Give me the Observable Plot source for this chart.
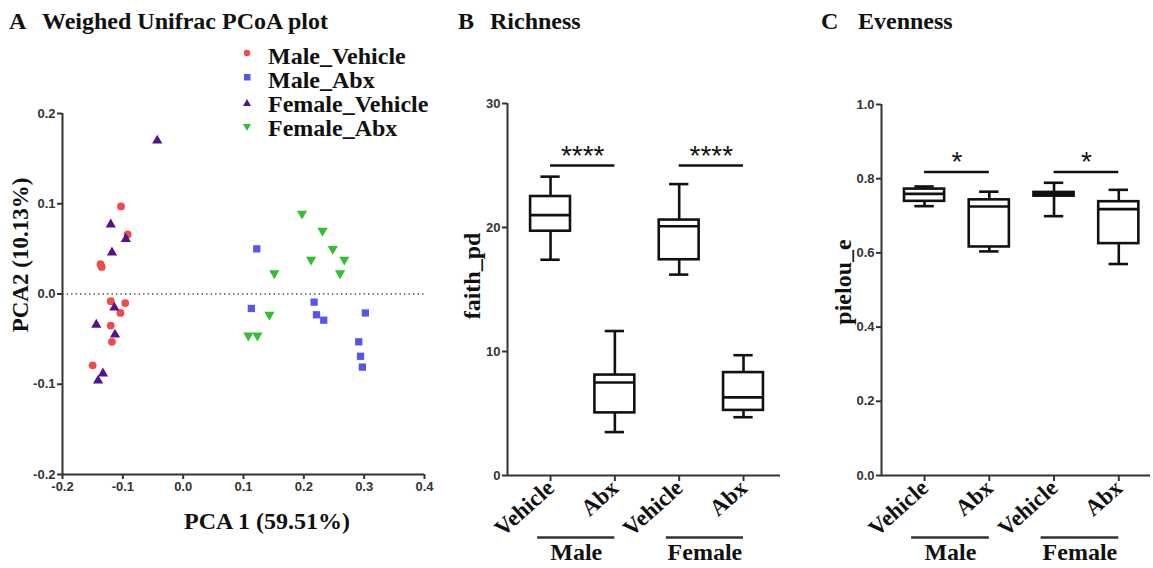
<!DOCTYPE html>
<html>
<head>
<meta charset="utf-8">
<script src="https://cdn.jsdelivr.net/npm/d3@7"></script>
<script src="https://cdn.jsdelivr.net/npm/@observablehq/plot@0.6"></script>
<style>
  body { margin: 0; background: #fff; }
  #wrap { position: relative; width: 1153px; height: 568px; overflow: hidden; background: #fff; }
  .abs { position: absolute; white-space: nowrap; }
  .serif { font-family: "Liberation Serif", "Times New Roman", serif; font-weight: bold; color: #111; font-size: 24px; line-height: 24px; }
  .rot { transform: translate(-50%, -50%) rotate(-90deg); }
  .plot { position: absolute; top: 0; }
</style>
</head>
<body>
<div id="wrap"></div>
<script>
// ---------- Panel A data (Weighted Unifrac PCoA) ----------
const maleVehicleX   = [-0.103, -0.092, -0.137, -0.135, -0.120, -0.096, -0.104, -0.120, -0.118, -0.150];
const maleVehicleY   = [ 0.097,  0.066,  0.033,  0.030, -0.008, -0.010, -0.021, -0.035, -0.053, -0.079];
const maleAbxX       = [ 0.122,  0.113,  0.217,  0.221,  0.233,  0.302,  0.291,  0.294,  0.297];
const maleAbxY       = [ 0.050, -0.016, -0.009, -0.023, -0.029, -0.021, -0.053, -0.069, -0.081];
const femaleVehicleX = [-0.043, -0.120, -0.095, -0.118, -0.114, -0.144, -0.113, -0.133, -0.141];
const femaleVehicleY = [ 0.170,  0.077,  0.061,  0.046, -0.015, -0.034, -0.045, -0.088, -0.096];
const femaleAbxX     = [ 0.197,  0.231,  0.248,  0.212,  0.267,  0.151,  0.260,  0.143,  0.108,  0.123];
const femaleAbxY     = [ 0.089,  0.070,  0.050,  0.038,  0.038,  0.023,  0.023, -0.023, -0.046, -0.046];
const seriesNames    = ["Male_Vehicle", "Male_Abx", "Female_Vehicle", "Female_Abx"];
const seriesColors   = ["#f04a4a", "#5656ee", "#55128c", "#30c030"];
const pcaXTicks      = [-0.2, -0.1, 0.0, 0.1, 0.2, 0.3, 0.4];
const pcaYTicks      = [-0.2, -0.1, 0.0, 0.1, 0.2];

// ---------- Panels B / C data (box summaries) ----------
const categories = ["Vehicle", "Abx", "Vehicle", "Abx"];
const positions  = [1, 2, 3, 4];
const groupNames = ["Male", "Female"];
const groupStart = [1, 3];
const groupEnd   = [2, 4];

const richMin    = [17.4, 3.5, 16.2, 4.7];
const richQ1     = [19.7, 5.05, 17.4, 5.25];
const richMedian = [21.0, 7.5, 20.1, 6.3];
const richQ3     = [22.5, 8.1, 20.6, 8.3];
const richMax    = [24.1, 11.65, 23.5, 9.7];
const richTicks  = [0, 10, 20, 30];
const richSigY   = [25.0, 25.0];
const richSigLbl = ["****", "****"];

const evenMin    = [0.726, 0.604, 0.699, 0.570];
const evenQ1     = [0.739, 0.616, 0.753, 0.625];
const evenMedian = [0.759, 0.725, 0.758, 0.718];
const evenQ3     = [0.772, 0.743, 0.763, 0.738];
const evenMax    = [0.779, 0.765, 0.789, 0.770];
const evenTicks  = [0, 0.2, 0.4, 0.6, 0.8, 1.0];
const evenSigY   = [0.818, 0.818];
const evenSigLbl = ["*", "*"];

const SERIF = "Liberation Serif";
const SANS = "Liberation Sans";
const wrap = document.getElementById("wrap");

function addText(txt, left, top, cls, extra) {
  const d = document.createElement("div");
  d.className = "abs " + cls;
  d.textContent = txt;
  d.style.left = left + "px";
  d.style.top = top + "px";
  if (extra) Object.assign(d.style, extra);
  wrap.appendChild(d);
  return d;
}
function place(svg, left) {
  svg.classList.add("plot");
  svg.style.left = left + "px";
  wrap.appendChild(svg);
}

// ---------- Panel A ----------
const toRows = (xs, ys) => xs.map((x, i) => ({x, y: ys[i]}));
const tickStyle = {fontSize: 13, fontWeight: "bold", fontFamily: SANS, color: "#333", strokeWidth: 2, label: null};

const plotA = Plot.plot({
  width: 440, height: 568,
  marginLeft: 62, marginRight: 16, marginTop: 113, marginBottom: 94,
  x: {domain: [-0.2, 0.4]},
  y: {domain: [-0.2, 0.2]},
  style: {background: "transparent", fontFamily: SANS, overflow: "visible"},
  marks: [
    Plot.ruleY([0], {stroke: "#555", strokeWidth: 1.5, strokeDasharray: "1.5,3"}),
    Plot.ruleX([-0.2], {stroke: "#333", strokeWidth: 2}),
    Plot.ruleY([-0.2], {stroke: "#333", strokeWidth: 2}),
    Plot.axisX({ticks: pcaXTicks, tickFormat: d => d.toFixed(1), tickSize: 5, tickPadding: 2, ...tickStyle}),
    Plot.axisY({ticks: pcaYTicks, tickFormat: d => d.toFixed(1), tickSize: 5, tickPadding: 2, ...tickStyle}),
    Plot.dot(toRows(maleAbxX, maleAbxY), {x: "x", y: "y", symbol: "square", r: 4.1, fill: seriesColors[1]}),
    Plot.dot(toRows(femaleAbxX, femaleAbxY), {x: "x", y: "y", symbol: "triangle", rotate: 180, r: 3.8, fill: seriesColors[3]}),
    Plot.dot(toRows(maleVehicleX, maleVehicleY), {x: "x", y: "y", symbol: "circle", r: 3.9, fill: seriesColors[0]}),
    Plot.dot(toRows(femaleVehicleX, femaleVehicleY), {x: "x", y: "y", symbol: "triangle", r: 3.8, fill: seriesColors[2]})
  ]
});
place(plotA, 0);

// ---------- Box panels ----------
function boxPanel({left, width, marginLeft, marginRight, marginTop, yDomain, xDomain, yTicks, yFmt, stats, sigY, sigLbl}) {
  const rows = positions.map((p, i) => ({pos: p, min: stats[0][i], q1: stats[1][i], med: stats[2][i], q3: stats[3][i], max: stats[4][i]}));
  const groups = groupNames.map((g, i) => ({name: g, start: groupStart[i], end: groupEnd[i]}));
  const sig = groups.map((g, i) => ({from: g.start, to: g.end, y: sigY[i], label: sigLbl[i]}));
  const line = {stroke: "#111", strokeWidth: 2.6};
  const hw = 0.31, cw = 0.15;
  const y0 = yDomain[0];
  const svg = Plot.plot({
    width, height: 568, marginLeft, marginRight, marginTop, marginBottom: 93,
    x: {domain: xDomain},
    y: {domain: yDomain},
    style: {background: "transparent", fontFamily: SANS, overflow: "visible"},
    marks: [
      Plot.ruleX(rows, {x: "pos", y1: "q3", y2: "max", ...line}),
      Plot.ruleX(rows, {x: "pos", y1: "min", y2: "q1", ...line}),
      Plot.ruleY(rows, {y: "max", x1: d => d.pos - cw, x2: d => d.pos + cw, ...line}),
      Plot.ruleY(rows, {y: "min", x1: d => d.pos - cw, x2: d => d.pos + cw, ...line}),
      Plot.rect(rows, {x1: d => d.pos - hw, x2: d => d.pos + hw, y1: "q1", y2: "q3", fill: "white", ...line}),
      Plot.ruleY(rows, {y: "med", x1: d => d.pos - hw, x2: d => d.pos + hw, ...line}),
      Plot.ruleY(sig, {y: "y", x1: "from", x2: "to", ...line}),
      Plot.text(sig, {x: d => (d.from + d.to) / 2, y: "y", text: "label", lineAnchor: "bottom", dy: -1, fontSize: 28, fontFamily: SANS, fill: "#111"}),
      Plot.ruleX([xDomain[0]], {stroke: "#333", strokeWidth: 2}),
      Plot.ruleY([y0], {stroke: "#333", strokeWidth: 2}),
      Plot.axisY({ticks: yTicks, tickFormat: yFmt, tickSize: 5, tickPadding: 2, ...tickStyle}),
      Plot.axisX({ticks: positions, tickFormat: d => categories[d - 1], tickRotate: -42, tickSize: 6, tickPadding: 3,
        fontSize: 23, fontWeight: "bold", fontFamily: SERIF, color: "#111", stroke: "#333", strokeWidth: 2, label: null}),
      Plot.ruleY(groups, {y: () => y0, x1: d => d.start - 0.2, x2: "end", dy: 62, stroke: "#333", strokeWidth: 2.6}),
      Plot.text(groups, {x: d => (d.start - 0.2 + d.end) / 2, y: () => y0, text: "name", dy: 84, lineAnchor: "bottom",
        fontSize: 24, fontWeight: "bold", fontFamily: SERIF, fill: "#111"})
    ]
  });
  place(svg, left);
}

boxPanel({left: 440, width: 370, marginLeft: 67, marginRight: 30, marginTop: 103,
  yDomain: [0, 30], xDomain: [0.331, 4.575], yTicks: richTicks, yFmt: d => String(d),
  stats: [richMin, richQ1, richMedian, richQ3, richMax], sigY: richSigY, sigLbl: richSigLbl});
boxPanel({left: 810, width: 343, marginLeft: 71, marginRight: 3, marginTop: 104,
  yDomain: [0, 1], xDomain: [0.335, 4.49], yTicks: evenTicks, yFmt: d => d.toFixed(1),
  stats: [evenMin, evenQ1, evenMedian, evenQ3, evenMax], sigY: evenSigY, sigLbl: evenSigLbl});

// ---------- Titles & labels ----------
addText("A", 9, 9, "serif");
addText("Weighed Unifrac PCoA plot", 42, 9, "serif");
addText("B", 458, 9, "serif");
addText("Richness", 490, 9, "serif");
addText("C", 821, 9, "serif");
addText("Evenness", 858, 9, "serif");

addText("PCA2 (10.13%)", 21, 255, "serif rot", {fontSize: "23px"});
addText("faith_pd", 472, 276, "serif rot");
addText("pielou_e", 843, 282, "serif rot");
addText("PCA 1 (59.51%)", 267, 509, "serif", {transform: "translateX(-50%)"});

// ---------- Legend ----------
const legendShapes = ["circle", "square", "triangle", "triangle-down"];
seriesNames.forEach((name, i) => {
  const top = 44 + i * 24;
  addText(name, 268, top, "serif");
  const s = document.createElementNS("http://www.w3.org/2000/svg", "svg");
  s.setAttribute("width", 12); s.setAttribute("height", 12);
  s.style.position = "absolute";
  s.style.left = (247 - 6) + "px";
  s.style.top = (top + (i < 2 ? 9.3 : 10.8) - 6) + "px";
  let el;
  if (legendShapes[i] === "circle") {
    el = document.createElementNS(s.namespaceURI, "circle");
    el.setAttribute("cx", 6); el.setAttribute("cy", 6); el.setAttribute("r", 3.2);
  } else if (legendShapes[i] === "square") {
    el = document.createElementNS(s.namespaceURI, "rect");
    el.setAttribute("x", 3); el.setAttribute("y", 3); el.setAttribute("width", 6.5); el.setAttribute("height", 6.5);
  } else {
    el = document.createElementNS(s.namespaceURI, "polygon");
    el.setAttribute("points", legendShapes[i] === "triangle" ? "6,2 10,9 2,9" : "6,10 10,3 2,3");
  }
  el.setAttribute("fill", seriesColors[i]);
  s.appendChild(el);
  wrap.appendChild(s);
});
</script>
</body>
</html>
